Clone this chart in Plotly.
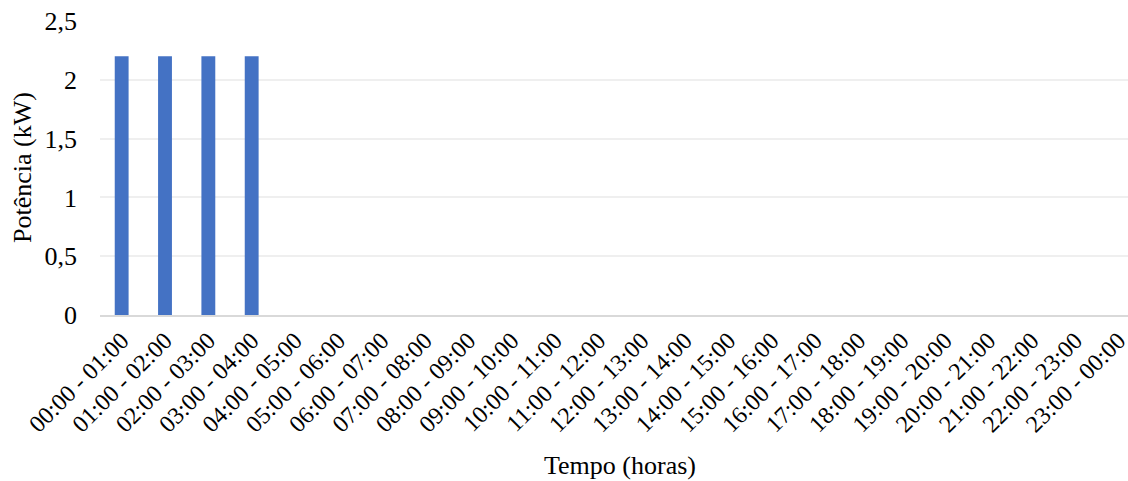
import plotly.graph_objects as go

categories = [
    "00:00 - 01:00", "01:00 - 02:00", "02:00 - 03:00", "03:00 - 04:00",
    "04:00 - 05:00", "05:00 - 06:00", "06:00 - 07:00", "07:00 - 08:00",
    "08:00 - 09:00", "09:00 - 10:00", "10:00 - 11:00", "11:00 - 12:00",
    "12:00 - 13:00", "13:00 - 14:00", "14:00 - 15:00", "15:00 - 16:00",
    "16:00 - 17:00", "17:00 - 18:00", "18:00 - 19:00", "19:00 - 20:00",
    "20:00 - 21:00", "21:00 - 22:00", "22:00 - 23:00", "23:00 - 00:00",
]
power_kw = [2.2, 2.2, 2.2, 2.2, 0, 0, 0, 0, 0, 0, 0, 0,
            0, 0, 0, 0, 0, 0, 0, 0, 0, 0, 0, 0]
y_ticks = [0, 0.5, 1, 1.5, 2, 2.5]

FONT = "Liberation Serif"

fig = go.Figure(go.Bar(
    x=categories, y=power_kw, marker_color="#4472C4",
    marker_line_width=0,
))

fig.update_layout(
    width=1128, height=481,
    margin=dict(l=100, r=0, t=21, b=166),
    plot_bgcolor="white", paper_bgcolor="white",
    separators=",.",
    font=dict(family=FONT, size=25, color="#000000"),
    bargap=0.68,
    showlegend=False,
    xaxis=dict(
        type="category",
        range=[-0.5, 23.22],
        tickangle=-45,
        tickfont=dict(size=24, family=FONT),
        showline=True, linecolor="#D9D9D9", linewidth=2,
        showgrid=False, ticks="",
        automargin=False,
    ),
    yaxis=dict(
        range=[0, 2.5],
        tickvals=y_ticks,
        tickfont=dict(size=26, family=FONT),
        showgrid=True, gridcolor="#EFEFEF", gridwidth=2,
        zeroline=False, showline=False, ticks="",
        ticklabelstandoff=22,
        automargin=False,
    ),
    annotations=[
        dict(text="Potência (kW)", textangle=-90, xref="paper", yref="paper",
             x=0, y=0.5, xshift=-78, xanchor="center", yanchor="middle",
             showarrow=False, font=dict(size=26, family=FONT)),
        dict(text="Tempo (horas)", xref="paper", yref="paper",
             x=0.506, y=0, yshift=-150, xanchor="center", yanchor="middle",
             showarrow=False, font=dict(size=26, family=FONT)),
    ],
)

fig.write_html("out.html")
